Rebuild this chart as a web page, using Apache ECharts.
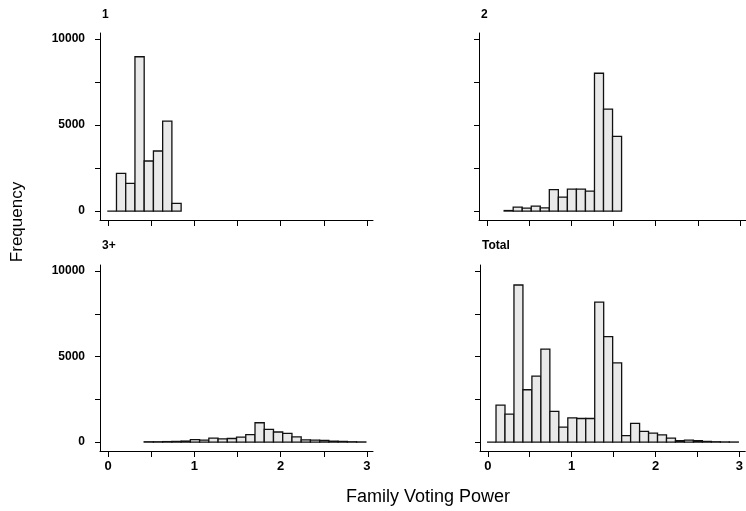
<!DOCTYPE html>
<html>
<head>
<meta charset="utf-8">
<script src="https://cdn.jsdelivr.net/npm/echarts@6/dist/echarts.min.js"></script>
<style>
  html, body { margin: 0; padding: 0; background: #fff; }
  #main { width: 746px; height: 511px; }
</style>
</head>
<body>
<div id="main"></div>
<script>
// histogram bins: bin i covers [binStart + i*binWidth, binStart + (i+1)*binWidth]
const binStart = -0.009;
const binWidth = 0.107;

// counts per bin (null = no bar drawn)
const panelNames = ['1', '2', '3+', 'Total'];
const counts1 = [0, 2190, 1610, 8970, 2910, 3490, 5230, 450];
const counts2 = [null, null, 30, 230, 170, 290, 190, 1240, 810, 1270, 1270, 1160, 8010, 5930, 4340];
const counts3 = [null, null, null, null, 20, 20, 30, 40, 60, 150, 115, 230, 190, 210, 290, 440,
    1130, 740, 590, 515, 305, 135, 115, 95, 55, 40, 20, 10];
const countsTotal = [0, 2160, 1640, 9180, 3060, 3860, 5430, 1800, 880, 1420, 1380, 1380, 8180, 6160,
    4630, 380, 1090, 630, 520, 420, 230, 80, 115, 80, 40, 20, 10, 5];

const yTicks = [0, 2500, 5000, 7500, 10000];
const yLabels = [0, 5000, 10000];
const xTicks = [0, 0.5, 1, 1.5, 2, 2.5, 3];
const xLabels = [0, 1, 2, 3];

let myChart = echarts.init(document.getElementById('main'));

const font = 'Liberation Sans, Arial, sans-serif';

// grid positions of the four panels
const grids = [
    { left: 100, top: 33, width: 273, height: 187 },
    { left: 479, top: 33, width: 273, height: 187 },
    { left: 100, top: 265, width: 273, height: 186 },
    { left: 480, top: 265, width: 273, height: 186 }
];

function toData(arr) {
    let out = [];
    arr.forEach(function (v, i) {
        if (v !== null) out.push([i, v]);
    });
    return out;
}

function renderBar(params, api) {
    let i = api.value(0);
    let x0 = binStart + i * binWidth;
    let p0 = api.coord([x0, api.value(1)]);
    let p1 = api.coord([x0 + binWidth, 0]);
    return {
        type: 'rect',
        shape: { x: p0[0], y: p0[1], width: p1[0] - p0[0], height: p1[1] - p0[1] },
        style: { fill: '#e9e9e9', stroke: '#111', lineWidth: 1.3 }
    };
}

const allCounts = [counts1, counts2, counts3, countsTotal];

let option = {
    animation: false,
    backgroundColor: '#fff',
    textStyle: { fontFamily: font },
    title: panelNames.map(function (name, k) {
        return {
            text: name,
            left: grids[k].left - 3,
            top: k < 2 ? 4 : 235,
            textStyle: { fontSize: 12, fontWeight: 'bold', color: '#000', fontFamily: font }
        };
    }),
    grid: grids,
    xAxis: grids.map(function (g, k) {
        return {
            type: 'value',
            gridIndex: k,
            min: -0.093,
            max: 3.07,
            splitLine: { show: false },
            axisLine: { onZero: false, lineStyle: { color: '#000', width: 1 } },
            axisTick: { length: 6, lineStyle: { color: '#000' }, customValues: xTicks },
            axisLabel: {
                show: k >= 2,
                customValues: xLabels,
                formatter: function (v) { return String(v); },
                margin: 9,
                fontSize: 13,
                fontWeight: 'bold',
                color: '#000'
            }
        };
    }),
    yAxis: grids.map(function (g, k) {
        return {
            type: 'value',
            gridIndex: k,
            min: -520,
            max: 10350,
            splitLine: { show: false },
            axisLine: { show: true, onZero: false, lineStyle: { color: '#000', width: 1 } },
            axisTick: { length: 5, lineStyle: { color: '#000' }, customValues: yTicks },
            axisLabel: {
                show: k % 2 === 0,
                customValues: yLabels,
                formatter: function (v) { return String(v); },
                margin: 15,
                fontSize: 12,
                fontWeight: 'bold',
                color: '#000'
            }
        };
    }),
    graphic: [
        {
            type: 'text',
            x: 17,
            y: 222,
            rotation: Math.PI / 2,
            style: {
                text: 'Frequency',
                fontSize: 17,
                fontFamily: font,
                fill: '#000',
                align: 'center',
                verticalAlign: 'middle'
            }
        },
        {
            type: 'text',
            x: 428,
            y: 497,
            style: {
                text: 'Family Voting Power',
                fontSize: 18,
                fontFamily: font,
                fill: '#000',
                align: 'center',
                verticalAlign: 'middle'
            }
        }
    ],
    series: allCounts.map(function (arr, k) {
        return {
            type: 'custom',
            name: panelNames[k],
            xAxisIndex: k,
            yAxisIndex: k,
            renderItem: renderBar,
            encode: { x: 0, y: 1 },
            data: toData(arr)
        };
    })
};

myChart.setOption(option);
</script>
</body>
</html>
